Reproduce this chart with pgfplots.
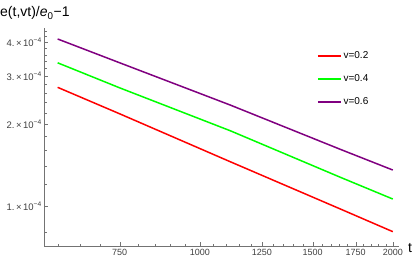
\documentclass[border=0pt]{standalone}
\usepackage{pgfplots}
\pgfplotsset{compat=1.18}
\usepackage{fontspec}
\setmainfont{Liberation Sans}
\definecolor{mpurple}{rgb}{0.5,0,0.5}
\definecolor{mgreen}{rgb}{0,1,0}
\definecolor{mred}{rgb}{1,0,0}
\begin{document}
\begin{tikzpicture}[x=1pt,y=1pt]
\path[use as bounding box] (-44.3,-16) rectangle (370.7,246);
\begin{axis}[
 at={(0,0)}, anchor=south west, scale only axis, width=354.7pt, height=218pt,
 xmode=log, ymode=log, xmin=572, xmax=2045, ymin=0.713e-4, ymax=4.51e-4,
 axis lines=left, axis line style={black!55, -},
 xtick={750,1000,1250,1500,1750,2000}, xticklabels={750,1000,1250,1500,1750,2000},
 minor xtick={600,650,700,800,850,900,950,1050,1100,1150,1200,1300,1350,1400,1450,1550,1600,1650,1700,1800,1850,1900,1950},
 ytick={1e-4,2e-4,3e-4,4e-4},
 yticklabels={1.\,×\,10\textsuperscript{−4},2.\,×\,10\textsuperscript{−4},3.\,×\,10\textsuperscript{−4},4.\,×\,10\textsuperscript{−4}},
 minor ytick={0.8e-4,1.2e-4,1.4e-4,1.6e-4,1.8e-4,2.2e-4,2.4e-4,2.6e-4,2.8e-4,3.2e-4,3.4e-4,3.6e-4,3.8e-4,4.2e-4,4.4e-4},
 tick style={black!55}, major tick length=4pt, minor tick length=2.5pt, tick align=inside,
 xticklabel style={font=\fontsize{9}{10}\selectfont, text=black!75},
 yticklabel style={font=\fontsize{9.5}{10}\selectfont, text=black!75, xshift=1pt},
 legend style={at={(rel axis cs:0.76,0.91)}, anchor=north west, draw=none, fill=none,
   font=\fontsize{10}{12}\selectfont, row sep=10.5pt},
 legend cell align=left,
 legend image code/.code={\draw[#1, line width=1.5pt] (0pt,0pt) -- (23pt,0pt);},
]
\addplot[draw=mred, line width=1.5pt] coordinates {(600,2.73e-4) (750,2.182e-4) (1116,1.454e-4) (1657,0.975e-4) (2000,0.805e-4)};
\addlegendentry{v=0.2}
\addplot[draw=mgreen, line width=1.5pt] coordinates {(600,3.36e-4) (750,2.718e-4) (1116,1.890e-4) (1657,1.275e-4) (2000,1.061e-4)};
\addlegendentry{v=0.4}
\addplot[draw=mpurple, line width=1.5pt] coordinates {(600,4.11e-4) (750,3.36e-4) (1116,2.349e-4) (1657,1.615e-4) (2000,1.356e-4)};
\addlegendentry{v=0.6}
\end{axis}
\node[anchor=base west, font=\fontsize{14}{16}\selectfont, inner sep=0pt] at (-44.3,229) {e(t,vt)/\textit{e}\textsubscript{0}−1};
\node[anchor=base west, font=\fontsize{14}{16}\selectfont, inner sep=0pt] at (363.7,-7) {t};
\end{tikzpicture}
\end{document}
